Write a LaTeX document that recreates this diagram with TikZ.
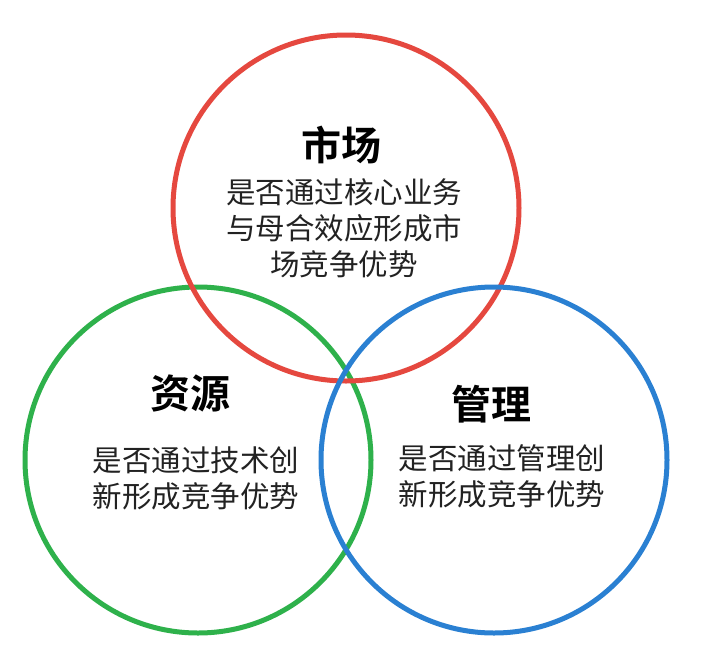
\documentclass[tikz,border=0pt]{standalone}
\usepackage{fontspec}
\newfontfamily\cjk{Noto Sans CJK SC}
\newfontfamily\cjkb{Noto Sans CJK SC Bold}
\definecolor{cred}{HTML}{E5483F}
\definecolor{cgreen}{HTML}{2EB14B}
\definecolor{cblue}{HTML}{2A80D2}
\definecolor{ctext}{HTML}{222222}
\begin{document}
\begin{tikzpicture}[x=1pt,y=-1pt,
  ring/.style={line width=5pt},
  title/.style={font=\cjkb\fontsize{40}{40}\selectfont, text=black, inner sep=0pt},
  body/.style={font=\cjk\fontsize{29.5}{36}\selectfont, text=ctext, align=center, inner sep=0pt}]
\useasboundingbox[fill=white] (0,0) rectangle (707,662);
\draw[ring, cgreen] (198,460) circle[radius=173];
\draw[ring, cred] (346,208) circle[radius=173];
\draw[ring, cblue] (494,460) circle[radius=173];
\node[title] (t1) at (341,145) {市场};
\node[body] (b1) at (344,228) {是否通过核心业务\\与母合效应形成市\\场竞争优势};
\node[title] (t2) at (190,393) {资源};
\node[body] (b2) at (196,478) {是否通过技术创\\新形成竞争优势};
\node[title] (t3) at (491,404) {管理};
\node[body] (b3) at (502,476) {是否通过管理创\\新形成竞争优势};
\end{tikzpicture}
\end{document}
